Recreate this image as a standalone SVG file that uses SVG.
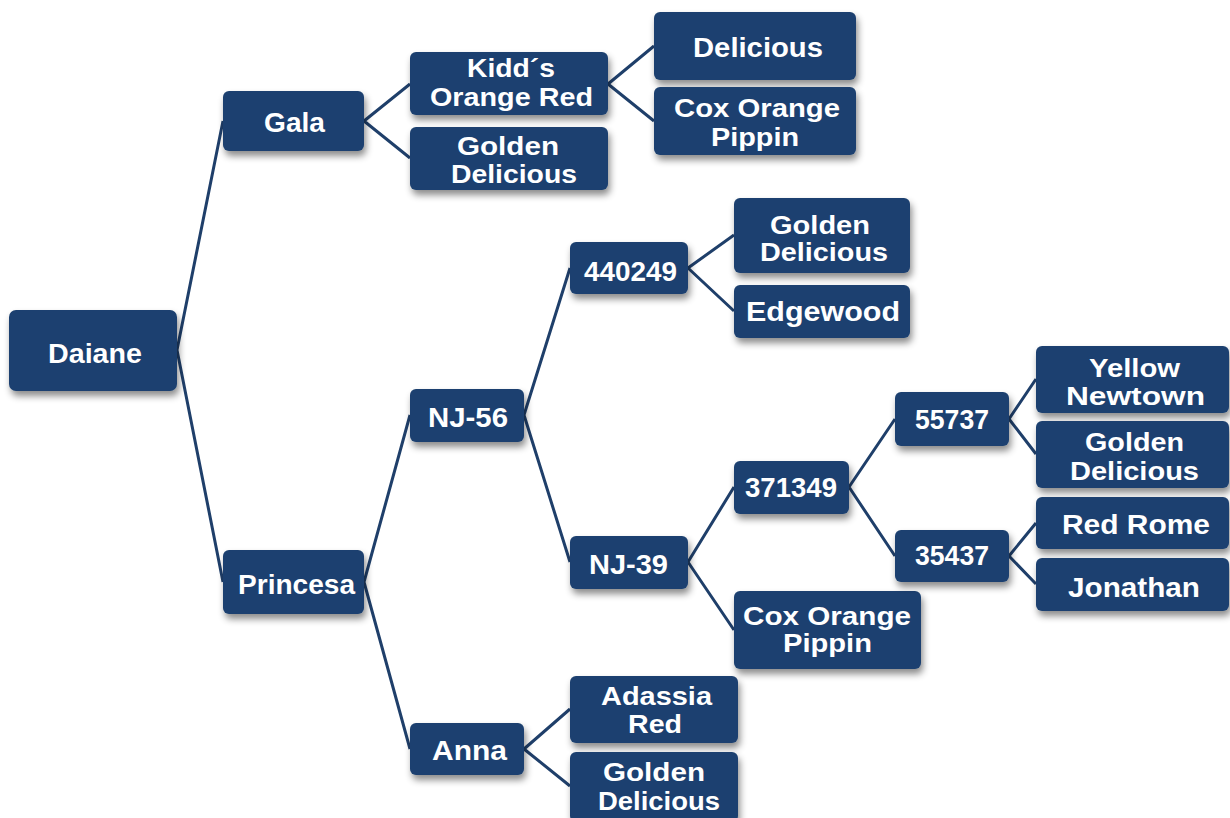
<svg xmlns="http://www.w3.org/2000/svg" width="1230" height="818" viewBox="0 0 1230 818">
<defs>
<filter id="sh" x="-20%" y="-20%" width="140%" height="160%">
<feDropShadow dx="2" dy="5" stdDeviation="3.5" flood-color="#000" flood-opacity="0.45"/>
</filter>
<style>
.box{fill:#1f416f;filter:url(#sh);}
.t{fill:#fff;font-family:"Liberation Sans",Arial,sans-serif;font-weight:bold;font-size:27px;}
.t2{font-size:25px;}
.c{stroke:#1f3f6a;stroke-width:3;fill:none;}
</style>
</defs>
<rect width="1230" height="818" fill="#fff"/>
<g id="connectors">
<path class="c" d="M177,350 L223,121 M177,350 L223,582"/>
<path class="c" d="M364,121 L410,84 M364,121 L410,158"/>
<path class="c" d="M608,84 L654,46 M608,84 L654,121"/>
<path class="c" d="M364,582 L410,415 M364,582 L410,749"/>
<path class="c" d="M524,415 L570,268 M524,415 L570,562"/>
<path class="c" d="M688,268 L734,235 M688,268 L734,311"/>
<path class="c" d="M688,562 L734,487 M688,562 L734,630"/>
<path class="c" d="M849,487 L895,419 M849,487 L895,556"/>
<path class="c" d="M1009,419 L1036,379 M1009,419 L1036,454"/>
<path class="c" d="M1009,556 L1036,523 M1009,556 L1036,584"/>
<path class="c" d="M524,749 L570,709 M524,749 L570,786"/>
</g>
<g id="daiane"><rect class="box" x="9" y="310" width="168" height="81" rx="7"/><text class="t" x="48" y="363" textLength="94" lengthAdjust="spacingAndGlyphs">Daiane</text></g>
<g id="gala"><rect class="box" x="223" y="91" width="141" height="60" rx="6"/><text class="t" x="264" y="132" textLength="61" lengthAdjust="spacingAndGlyphs">Gala</text></g>
<g id="princesa"><rect class="box" x="223" y="550" width="141" height="64" rx="6"/><text class="t" x="238" y="594" textLength="117" lengthAdjust="spacingAndGlyphs">Princesa</text></g>
<g id="kidds"><rect class="box" x="410" y="52" width="198" height="63" rx="6"/><text class="t t2" x="467" y="77" textLength="88" lengthAdjust="spacingAndGlyphs">Kidd´s</text><text class="t t2" x="430" y="106" textLength="163" lengthAdjust="spacingAndGlyphs">Orange Red</text></g>
<g id="golden-gala"><rect class="box" x="410" y="127" width="198" height="63" rx="6"/><text class="t t2" x="457" y="155" textLength="102" lengthAdjust="spacingAndGlyphs">Golden</text><text class="t t2" x="451" y="183" textLength="126" lengthAdjust="spacingAndGlyphs">Delicious</text></g>
<g id="delicious"><rect class="box" x="654" y="12" width="202" height="68" rx="6"/><text class="t" x="693" y="57" textLength="130" lengthAdjust="spacingAndGlyphs">Delicious</text></g>
<g id="cox-kidds"><rect class="box" x="654" y="87" width="202" height="68" rx="6"/><text class="t t2" x="674" y="117" textLength="166" lengthAdjust="spacingAndGlyphs">Cox Orange</text><text class="t t2" x="711" y="146" textLength="88" lengthAdjust="spacingAndGlyphs">Pippin</text></g>
<g id="nj56"><rect class="box" x="410" y="389" width="114" height="53" rx="6"/><text class="t" x="428" y="427" textLength="80" lengthAdjust="spacingAndGlyphs">NJ-56</text></g>
<g id="anna"><rect class="box" x="410" y="723" width="114" height="52" rx="6"/><text class="t" x="432" y="760" textLength="75" lengthAdjust="spacingAndGlyphs">Anna</text></g>
<g id="n440249"><rect class="box" x="570" y="242" width="118" height="52" rx="6"/><text class="t" x="584" y="281" textLength="93" lengthAdjust="spacingAndGlyphs">440249</text></g>
<g id="nj39"><rect class="box" x="570" y="536" width="118" height="53" rx="6"/><text class="t" x="589" y="574" textLength="79" lengthAdjust="spacingAndGlyphs">NJ-39</text></g>
<g id="adassia"><rect class="box" x="570" y="676" width="168" height="67" rx="6"/><text class="t t2" x="601" y="705" textLength="111" lengthAdjust="spacingAndGlyphs">Adassia</text><text class="t t2" x="628" y="733" textLength="54" lengthAdjust="spacingAndGlyphs">Red</text></g>
<g id="golden-anna"><rect class="box" x="570" y="752" width="168" height="70" rx="6"/><text class="t t2" x="603" y="781" textLength="102" lengthAdjust="spacingAndGlyphs">Golden</text><text class="t t2" x="598" y="810" textLength="122" lengthAdjust="spacingAndGlyphs">Delicious</text></g>
<g id="golden-440249"><rect class="box" x="734" y="198" width="176" height="75" rx="6"/><text class="t t2" x="770" y="234" textLength="100" lengthAdjust="spacingAndGlyphs">Golden</text><text class="t t2" x="760" y="261" textLength="128" lengthAdjust="spacingAndGlyphs">Delicious</text></g>
<g id="edgewood"><rect class="box" x="734" y="285" width="176" height="53" rx="6"/><text class="t" x="746" y="321" textLength="154" lengthAdjust="spacingAndGlyphs">Edgewood</text></g>
<g id="n371349"><rect class="box" x="734" y="461" width="115" height="53" rx="6"/><text class="t" x="745" y="497" textLength="92" lengthAdjust="spacingAndGlyphs">371349</text></g>
<g id="cox-nj39"><rect class="box" x="734" y="591" width="187" height="78" rx="6"/><text class="t t2" x="743" y="625" textLength="168" lengthAdjust="spacingAndGlyphs">Cox Orange</text><text class="t t2" x="783" y="652" textLength="89" lengthAdjust="spacingAndGlyphs">Pippin</text></g>
<g id="n55737"><rect class="box" x="895" y="392" width="114" height="54" rx="6"/><text class="t" x="915" y="429" textLength="74" lengthAdjust="spacingAndGlyphs">55737</text></g>
<g id="n35437"><rect class="box" x="895" y="530" width="114" height="52" rx="6"/><text class="t" x="915" y="565" textLength="74" lengthAdjust="spacingAndGlyphs">35437</text></g>
<g id="yellow"><rect class="box" x="1036" y="346" width="193" height="67" rx="6"/><text class="t t2" x="1089" y="377" textLength="91" lengthAdjust="spacingAndGlyphs">Yellow</text><text class="t t2" x="1066" y="405" textLength="139" lengthAdjust="spacingAndGlyphs">Newtown</text></g>
<g id="golden-55737"><rect class="box" x="1036" y="421" width="193" height="67" rx="6"/><text class="t t2" x="1085" y="451" textLength="99" lengthAdjust="spacingAndGlyphs">Golden</text><text class="t t2" x="1070" y="480" textLength="129" lengthAdjust="spacingAndGlyphs">Delicious</text></g>
<g id="redrome"><rect class="box" x="1036" y="497" width="193" height="52" rx="6"/><text class="t" x="1062" y="534" textLength="148" lengthAdjust="spacingAndGlyphs">Red Rome</text></g>
<g id="jonathan"><rect class="box" x="1036" y="558" width="193" height="53" rx="6"/><text class="t" x="1068" y="597" textLength="132" lengthAdjust="spacingAndGlyphs">Jonathan</text></g>
</svg>
